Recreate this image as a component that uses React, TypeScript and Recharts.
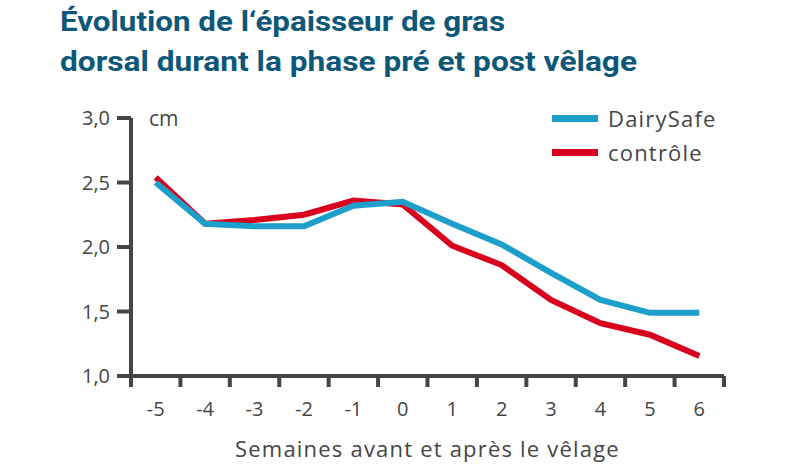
import React from 'react';
import { LineChart, Line, XAxis, YAxis } from 'recharts';

const weeks = [-5, -4, -3, -2, -1, 0, 1, 2, 3, 4, 5, 6];
const dairySafe = [2.5, 2.18, 2.16, 2.16, 2.32, 2.35, 2.18, 2.02, 1.8, 1.59, 1.49, 1.49];
const controle = [2.54, 2.18, 2.21, 2.25, 2.36, 2.33, 2.01, 1.86, 1.59, 1.41, 1.32, 1.155];
const yTicks = [1, 1.5, 2, 2.5, 3];
const titleLines = ["Évolution de l‘épaisseur de gras", 'dorsal durant la phase pré et post vêlage'];
const xTitle = 'Semaines avant et après le vêlage';

const BLUE = '#1c9fcb';
const RED = '#d8001c';
const AXIS = '#454545';
const TITLE = '#0d5779';
const FONT = '"Open Sans", sans-serif';

const series = [
  { key: 'dairySafe', name: 'DairySafe', color: BLUE },
  { key: 'controle', name: 'contrôle', color: RED },
];

const data = weeks.map((w, i) => ({ week: w, dairySafe: dairySafe[i], controle: controle[i] }));

// label ticks on the weeks, short tick marks on the band edges between them
const xTicks = [...weeks.map(w => w - 0.5), weeks[weeks.length - 1] + 0.5, ...weeks];

function XTick(props: any) {
  const { x, y, payload } = props;
  const v = payload.value;
  if (Number.isInteger(v)) {
    return (
      <text x={x} y={y + 40} textAnchor="middle" fontSize={20} fill={AXIS} fontFamily={FONT}>
        {v}
      </text>
    );
  }
  return <line x1={x} x2={x} y1={y} y2={y + 11} stroke={AXIS} strokeWidth={4} />;
}

export default function App() {
  return (
    <div style={{ position: 'relative', width: 800, height: 465, fontFamily: FONT, background: '#fff' }}>
      <style>{'body{margin:0}'}</style>
      <svg width={800} height={90} style={{ position: 'absolute', left: 0, top: 0 }}>
        <text x={60} y={31} fontSize={28} fontWeight={700} fill={TITLE} fontFamily="Roboto"
          textLength={445} lengthAdjust="spacingAndGlyphs">{titleLines[0]}</text>
        <text x={60} y={71} fontSize={28} fontWeight={700} fill={TITLE} fontFamily="Roboto"
          textLength={577} lengthAdjust="spacingAndGlyphs">{titleLines[1]}</text>
      </svg>
      <div style={{ position: 'absolute', left: 0, top: 0 }}>
        <LineChart width={800} height={465} data={data} margin={{ top: 118, right: 76, left: 0, bottom: 0 }}>
          <XAxis
            dataKey="week"
            type="number"
            domain={[-5.5, 6.5]}
            ticks={xTicks}
            interval={0}
            tickSize={0}
            tickMargin={0}
            tickLine={false}
            tick={XTick}
            height={89}
            axisLine={{ stroke: AXIS, strokeWidth: 4 }}
            label={{ value: xTitle, position: 'insideBottom', offset: 8, fontSize: 22, fill: AXIS, letterSpacing: 1.2 }}
          />
          <YAxis
            domain={[1, 3]}
            ticks={yTicks}
            width={131}
            tickSize={14}
            tickMargin={7}
            tickFormatter={(v: number) => v.toFixed(1).replace('.', ',')}
            tick={{ fontSize: 20, fill: AXIS }}
            tickLine={{ stroke: AXIS, strokeWidth: 4 }}
            axisLine={{ stroke: AXIS, strokeWidth: 4 }}
          />
          <Line dataKey="controle" name="contrôle" stroke={RED} strokeWidth={6} dot={false} isAnimationActive={false} />
          <Line dataKey="dairySafe" name="DairySafe" stroke={BLUE} strokeWidth={6} dot={false} isAnimationActive={false} />
        </LineChart>
      </div>
      <div style={{ position: 'absolute', left: 149, top: 104, fontSize: 21, color: AXIS }}>cm</div>
      <div style={{ position: 'absolute', left: 552, top: 101 }}>
        {series.map(s => (
          <div key={s.key} style={{ display: 'flex', alignItems: 'center', height: 34 }}>
            <div style={{ width: 46, height: 7, background: s.color, marginRight: 10 }} />
            <span style={{ fontSize: 22, color: AXIS, letterSpacing: 1.2 }}>{s.name}</span>
          </div>
        ))}
      </div>
    </div>
  );
}
